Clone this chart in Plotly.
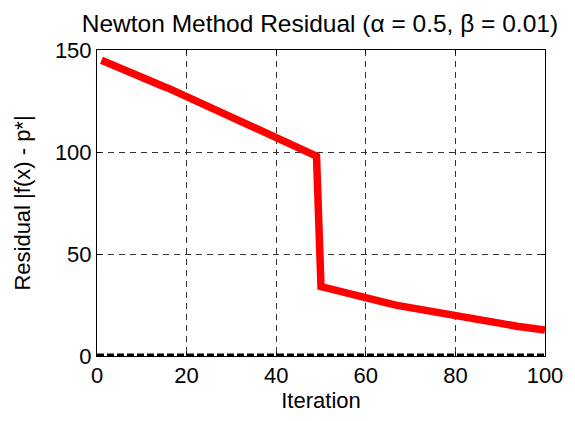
import plotly.graph_objects as go

iterations = list(range(1, 101))
residual = [
    145.0, 144.0, 143.1, 142.3, 141.5, 140.6, 139.7, 138.8, 137.6, 136.4,
    135.5, 134.7, 133.8, 132.9, 132.0, 131.2, 130.2, 128.9, 127.7, 126.8,
    125.9, 125.0, 124.1, 123.2, 122.3, 121.1, 119.8, 118.8, 117.9, 117.0,
    116.1, 115.2, 114.3, 113.4, 112.4, 111.2, 109.9, 108.9, 108.0, 107.1,
    106.2, 105.3, 104.4, 103.5, 102.6, 101.7, 100.6, 99.4, 98.0,
    34.0, 33.4, 32.9, 32.3, 31.8, 31.2, 30.6, 30.0, 29.4, 28.8,
    28.3, 27.8, 27.3, 26.8, 26.3, 25.8, 25.3, 24.8, 24.4, 23.9,
    23.5, 23.0, 22.6, 22.1, 21.7, 21.2, 20.8, 20.4, 20.0, 19.6,
    19.3, 18.9, 18.5, 18.2, 17.8, 17.4, 17.1, 16.8, 16.4, 16.1,
    15.8, 15.4, 15.1, 14.8, 14.5, 14.2, 13.9, 13.6, 13.3, 13.0, 12.7,
]
baseline_x = [0, 100]
baseline_y = [0, 0]
x_ticks = [0, 20, 40, 60, 80, 100]
y_ticks = [0, 50, 100, 150]

FONT = "Liberation Sans, Arial, sans-serif"

fig = go.Figure()
fig.add_trace(go.Scatter(x=baseline_x, y=baseline_y, mode="lines",
                         line=dict(color="black", width=5, dash="7px,3px"),
                         showlegend=False, hoverinfo="skip"))
fig.add_trace(go.Scatter(x=iterations, y=residual, mode="lines",
                         line=dict(color="#ff0000", width=7.5),
                         showlegend=False))

axis_common = dict(
    showline=True, linecolor="black", linewidth=1, mirror="ticks",
    ticks="inside", ticklen=4, tickcolor="black",
    showgrid=True, gridcolor="#333333", gridwidth=1, griddash="6px,5px",
    zeroline=False, automargin=False,
    tickfont=dict(family=FONT, size=22, color="black"),
)

fig.update_xaxes(range=[0, 100], tickvals=x_ticks,
                 title=dict(text="Iteration", font=dict(family=FONT, size=22, color="black"), standoff=7),
                 **axis_common)
fig.update_yaxes(range=[0, 150], tickvals=y_ticks,
                 title=dict(text="Residual |f(x) - p*|", font=dict(family=FONT, size=22, color="black"), standoff=18),
                 **axis_common)

fig.update_layout(
    width=559, height=405,
    margin=dict(l=89, r=22, t=42, b=57, autoexpand=False),
    paper_bgcolor="white", plot_bgcolor="white",
    title=dict(text="Newton Method Residual (α = 0.5, β = 0.01)",
               font=dict(family=FONT, size=24.5, color="black"),
               x=0.558, xanchor="center", y=0.962, yanchor="middle"),
)

fig.write_html("out.html")
